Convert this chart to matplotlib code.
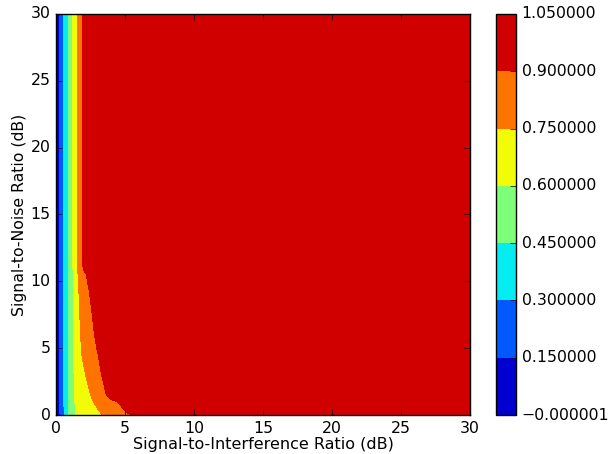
#!/usr/bin/env python3

import numpy as np
import matplotlib
matplotlib.use("Agg")
import matplotlib.pyplot as plt
from matplotlib.ticker import FuncFormatter

plt.style.use('classic')

# Signal-to-Interference Ratio (dB), columns of the grid
sir_db = [0, 0.5, 1, 1.5, 2, 3, 4, 5, 6, 8, 10, 20, 30]
# Signal-to-Noise Ratio (dB), rows of the grid
snr_db = [0, 1, 1.5, 3, 4.5, 6, 7.5, 9, 10.5, 11.5, 20, 30]

# success rate, one row per SNR value
rate = [
    [0.00, 0.26, 0.48, 0.62, 0.67, 0.73, 0.79, 0.88, 0.935, 0.97, 0.99, 1.00, 1.00],
    [0.00, 0.27, 0.49, 0.64, 0.70, 0.77, 0.87, 0.94, 0.97, 0.985, 0.995, 1.00, 1.00],
    [0.00, 0.27, 0.49, 0.65, 0.72, 0.78, 0.965, 0.98, 0.99, 1.00, 1.00, 1.00, 1.00],
    [0.00, 0.27, 0.49, 0.67, 0.73, 0.87, 0.97, 0.99, 1.00, 1.00, 1.00, 1.00, 1.00],
    [0.00, 0.27, 0.49, 0.69, 0.77, 0.895, 0.98, 0.99, 1.00, 1.00, 1.00, 1.00, 1.00],
    [0.00, 0.27, 0.49, 0.70, 0.79, 0.93, 0.985, 1.00, 1.00, 1.00, 1.00, 1.00, 1.00],
    [0.00, 0.27, 0.49, 0.71, 0.80, 0.96, 0.99, 1.00, 1.00, 1.00, 1.00, 1.00, 1.00],
    [0.00, 0.27, 0.49, 0.715, 0.82, 1.00, 1.00, 1.00, 1.00, 1.00, 1.00, 1.00, 1.00],
    [0.00, 0.27, 0.49, 0.72, 0.875, 1.00, 1.00, 1.00, 1.00, 1.00, 1.00, 1.00, 1.00],
    [0.00, 0.28, 0.50, 0.73, 0.95, 0.99, 1.00, 1.00, 1.00, 1.00, 1.00, 1.00, 1.00],
    [0.00, 0.28, 0.50, 0.73, 0.95, 0.99, 1.00, 1.00, 1.00, 1.00, 1.00, 1.00, 1.00],
    [0.00, 0.28, 0.50, 0.73, 0.95, 0.99, 1.00, 1.00, 1.00, 1.00, 1.00, 1.00, 1.00],
]

levels = [-0.000001, 0.15, 0.3, 0.45, 0.6, 0.75, 0.9, 1.05]


def fmt_level(v, pos):
    return ('%f' % v).replace('-', '\u2212')


def main():
    fig = plt.figure(figsize=(6.13, 4.54), dpi=100, facecolor='white')
    ax = fig.add_axes([0.0914, 0.0859, 0.6753, 0.8833])
    cax = fig.add_axes([0.8091, 0.0859, 0.0326, 0.8833])

    X, Y = np.meshgrid(sir_db, snr_db)
    cs = ax.contourf(X, Y, np.array(rate), levels=levels, cmap='jet')

    ax.set_xlim(0, 30)
    ax.set_ylim(0, 30)
    ax.set_xlabel("Signal-to-Interference Ratio (dB)", fontsize=11.5, labelpad=1)
    ax.set_ylabel("Signal-to-Noise Ratio (dB)", fontsize=11.3, labelpad=2.5)
    ax.tick_params(labelsize=11.3)

    cb = fig.colorbar(cs, cax=cax, format=FuncFormatter(fmt_level))
    cb.ax.tick_params(labelsize=11.3)

    fig.savefig("out.png", dpi=100, facecolor='white')


if __name__ == '__main__':
    main()
